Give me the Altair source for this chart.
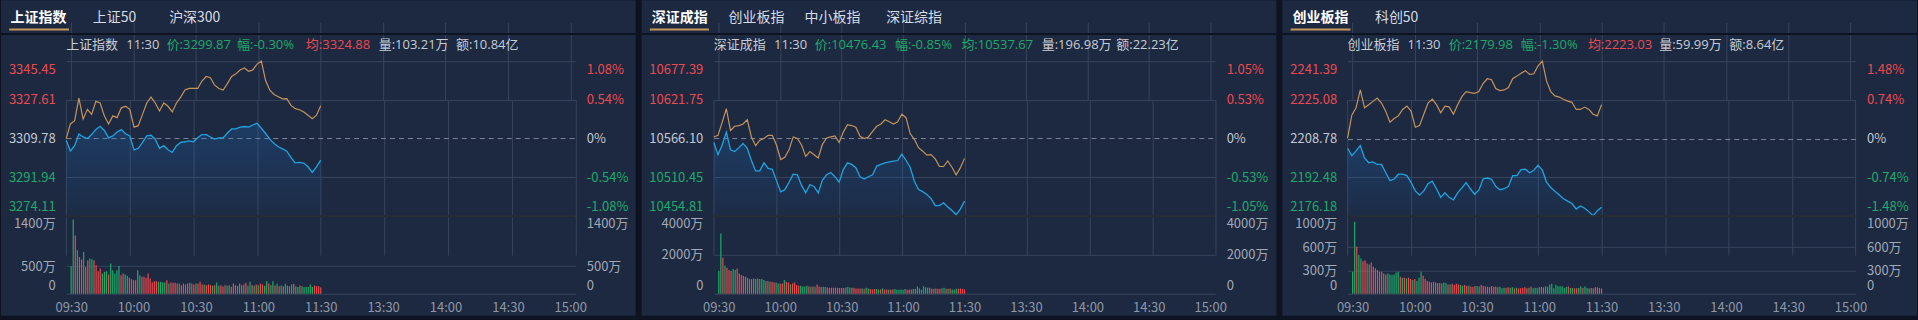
import json
import altair as alt
import pandas as pd

# ---------------------------------------------------------------- data
TIME_TICKS = [0, 30, 60, 90, 120, 150, 180, 210, 240]
TIME_LABELS = ["09:30", "10:00", "10:30", "11:00", "11:30", "13:30", "14:00", "14:30", "15:00"]
LINE_MINUTES = list(range(0, 121, 2))

# --- 上证指数
sh_tabs = ["上证指数", "上证50", "沪深300"]
sh_info = ["上证指数", "11:30", "价:3299.87", "幅:-0.30%", "均:3324.88", "量:103.21万", "额:10.84亿"]
sh_info_tone = ["n", "n", "d", "d", "u", "n", "n"]
sh_price_ticks = [3274.11, 3291.94, 3309.78, 3327.61, 3345.45]
sh_price_labels = ["3274.11", "3291.94", "3309.78", "3327.61", "3345.45"]
sh_pct_labels = ["-1.08%", "-0.54%", "0%", "0.54%", "1.08%"]
sh_vol_ticks = [0, 500, 1400]
sh_vol_labels = ["0", "500万", "1400万"]
sh_price = [3309.0, 3304.1, 3306.5, 3311.9, 3310.5, 3309.8, 3311.6, 3313.9, 3315.4, 3313.5,
            3310.1, 3311.0, 3312.8, 3313.9, 3312.0, 3311.0, 3304.6, 3305.3, 3308.0, 3311.0,
            3311.3, 3309.5, 3305.3, 3306.5, 3304.6, 3303.4, 3306.5, 3308.0, 3308.3, 3308.7,
            3308.3, 3310.1, 3311.6, 3311.6, 3310.5, 3309.5, 3310.1, 3310.1, 3312.3, 3314.2,
            3314.2, 3315.0, 3315.3, 3315.0, 3316.0, 3316.8, 3314.5, 3312.1, 3309.5, 3307.5,
            3306.0, 3305.0, 3304.0, 3301.0, 3298.6, 3298.8, 3298.5, 3296.8, 3294.2, 3296.8,
            3299.87]
sh_avg = [3309.78, 3316.5, 3318.0, 3328.4, 3318.7, 3323.2, 3320.9, 3326.9, 3326.1, 3320.2,
          3316.5, 3320.2, 3319.4, 3323.9, 3324.6, 3323.2, 3315.0, 3315.7, 3320.9, 3326.1,
          3328.8, 3326.1, 3322.4, 3326.1, 3324.6, 3322.0, 3326.1, 3328.8, 3332.1, 3332.8,
          3332.8, 3332.8, 3336.2, 3338.3, 3337.7, 3334.3, 3332.8, 3332.1, 3335.0, 3338.3,
          3339.5, 3341.3, 3342.2, 3340.7, 3341.3, 3344.0, 3345.4, 3336.4, 3332.0, 3330.0,
          3329.0, 3328.0, 3328.1, 3325.0, 3323.5, 3323.0, 3322.0, 3320.5, 3318.9, 3320.5,
          3324.88]
sh_vol = [496, 1340, 1052, 783, 664, 616, 753, 484, 604, 634,
          622, 604, 514, 407, 454, 365, 395, 407, 347, 544,
          425, 365, 425, 502, 335, 365, 347, 323, 287, 263,
          245, 245, 425, 335, 305, 305, 287, 365, 275, 203,
          227, 227, 215, 215, 203, 203, 245, 185, 203, 197,
          197, 185, 185, 155, 185,
          167, 185, 197, 185, 167, 185, 179, 215, 167, 167,
          155, 167, 155, 143, 155, 203, 143, 155, 131, 155,
          143, 155, 126, 185, 155, 143, 185, 155, 167, 197,
          143, 215, 155, 143, 167, 155, 185, 167, 143, 227,
          185, 155,
          223, 147, 182, 135, 147, 135, 182, 147, 135, 165,
          182, 135, 123, 147, 135, 123, 123, 123, 165, 123,
          147, 135, 135, 112]
sh_vol_dir = ("ggrgrrgrrg" "grrrrgggrg" "ggggrrggrr" "rrggrrrrrr" "rrggggrgrr" "rrgrr"
              "rrgrrgrrrg" "rrrgrggrrr" "ggrrrgrgrr" "ggrgrgrrgg" "rg"
              "grgrgrggrg" "rggrgggggg" "rrrr")

# --- 深证成指
sz_tabs = ["深证成指", "创业板指", "中小板指", "深证综指"]
sz_info = ["深证成指", "11:30", "价:10476.43", "幅:-0.85%", "均:10537.67", "量:196.98万", "额:22.23亿"]
sz_info_tone = ["n", "n", "d", "d", "d", "n", "n"]
sz_price_ticks = [10454.81, 10510.45, 10566.10, 10621.75, 10677.39]
sz_price_labels = ["10454.81", "10510.45", "10566.10", "10621.75", "10677.39"]
sz_pct_labels = ["-1.05%", "-0.53%", "0%", "0.53%", "1.05%"]
sz_vol_ticks = [0, 2000, 4000]
sz_vol_labels = ["0", "2000万", "4000万"]
sz_price = [10560.5, 10542.9, 10556.8, 10575.4, 10549.9, 10547.5, 10553.1, 10559.1, 10552.2, 10534.6,
            10519.7, 10519.7, 10531.3, 10523.4, 10522.0, 10505.8, 10489.6, 10492.8, 10503.5, 10515.1,
            10514.2, 10498.9, 10488.2, 10500.2, 10497.5, 10488.2, 10506.7, 10514.2, 10517.4, 10511.4,
            10503.5, 10522.0, 10531.3, 10529.0, 10524.4, 10511.4, 10508.1, 10511.4, 10514.2, 10526.7,
            10529.0, 10531.3, 10532.7, 10533.6, 10534.6, 10543.8, 10535.0, 10525.0, 10505.0, 10493.0,
            10490.0, 10486.0, 10480.0, 10470.0, 10470.0, 10474.0, 10468.0, 10463.0, 10457.0, 10465.0,
            10476.43]
sz_avg = [10568.4, 10570.7, 10589.3, 10608.8, 10577.7, 10583.7, 10584.7, 10587.0, 10593.0, 10568.4,
          10555.9, 10563.8, 10566.1, 10570.7, 10570.7, 10556.8, 10536.0, 10539.2, 10549.9, 10568.4,
          10566.1, 10556.8, 10540.6, 10547.5, 10542.9, 10538.3, 10557.8, 10567.0, 10568.4, 10569.8,
          10560.5, 10575.4, 10586.0, 10584.7, 10582.3, 10569.3, 10566.1, 10568.4, 10576.3, 10583.7,
          10587.0, 10593.0, 10590.2, 10587.0, 10590.2, 10600.9, 10596.0, 10573.2, 10565.0, 10553.0,
          10548.0, 10542.3, 10543.0, 10537.0, 10526.0, 10526.0, 10534.0, 10525.0, 10514.0, 10524.0,
          10537.67]
sz_vol = [1168, 3108, 1854, 1442, 1339, 1219, 1168, 1270, 1219, 1305,
          1047, 962, 927, 876, 824, 755, 755, 790, 755, 790,
          755, 755, 704, 652, 652, 618, 618, 584, 584, 532,
          532, 532, 704, 618, 584, 481, 532, 584, 446, 412,
          412, 378, 378, 412, 378, 361, 378, 361, 481, 378,
          343, 361, 343, 326, 309, 309, 309,
          309, 309, 292, 292, 292, 326, 343, 326, 309, 309,
          275, 275, 275, 275, 258, 309, 275, 240, 223, 240,
          240, 223, 223, 275, 223, 223, 206, 206, 223, 240,
          206, 206, 223, 206, 240, 206, 223, 223, 240, 240,
          378, 275, 206,
          390, 339, 305, 305, 254, 254, 271, 254, 254, 288,
          305, 254, 254, 271, 220, 220, 254, 254, 271, 254,
          220]
sz_vol_dir = ("ggrgrrrggr" "rrrrgrrggr" "gggrgrrrgg" "rrgrrgrrrr" "ggggrgrgrr" "rggrrrr"
              "rrrrrgggrr" "rrrgrggrrr" "ggrgrrgrrg" "gggggrrrgr" "ggg"
              "gggrrgrrrg" "grgrgggrrr" "r")

# --- 创业板指
cy_tabs = ["创业板指", "科创50"]
cy_info = ["创业板指", "11:30", "价:2179.98", "幅:-1.30%", "均:2223.03", "量:59.99万", "额:8.64亿"]
cy_info_tone = ["n", "n", "d", "d", "u", "n", "n"]
cy_price_ticks = [2176.18, 2192.48, 2208.78, 2225.08, 2241.39]
cy_price_labels = ["2176.18", "2192.48", "2208.78", "2225.08", "2241.39"]
cy_pct_labels = ["-1.48%", "-0.74%", "0%", "0.74%", "1.48%"]
cy_vol_ticks = [0, 300, 600, 1000]
cy_vol_labels = ["0", "300万", "600万", "1000万"]
cy_price = [2204.7, 2201.6, 2203.6, 2205.8, 2200.6, 2198.6, 2199.0, 2197.9, 2197.9, 2194.5,
            2191.1, 2191.8, 2193.8, 2193.8, 2193.2, 2190.4, 2186.8, 2185.0, 2186.8, 2189.8,
            2190.9, 2187.7, 2184.1, 2186.0, 2184.1, 2183.0, 2186.0, 2188.1, 2190.3, 2187.7,
            2185.4, 2187.1, 2191.8, 2192.2, 2191.7, 2188.7, 2187.3, 2187.7, 2188.7, 2193.2,
            2193.2, 2195.7, 2195.9, 2194.4, 2195.5, 2197.6, 2195.5, 2190.5, 2188.2, 2186.6,
            2185.1, 2183.5, 2182.5, 2181.5, 2179.2, 2180.5, 2179.5, 2178.1, 2176.3, 2178.5,
            2179.98]
cy_avg = [2209.0, 2218.6, 2221.7, 2229.2, 2221.7, 2223.0, 2224.4, 2225.8, 2223.7, 2220.3,
          2215.6, 2217.2, 2218.3, 2221.0, 2222.4, 2220.3, 2213.5, 2214.2, 2219.0, 2223.7,
          2225.3, 2223.0, 2219.6, 2222.4, 2222.1, 2219.0, 2223.0, 2226.4, 2228.5, 2228.1,
          2227.8, 2228.5, 2231.9, 2233.9, 2233.5, 2229.8, 2228.9, 2229.2, 2230.2, 2233.9,
          2235.0, 2236.2, 2237.3, 2235.7, 2236.0, 2239.3, 2241.3, 2233.0, 2228.5, 2226.7,
          2226.2, 2225.3, 2224.5, 2224.0, 2221.0, 2221.0, 2222.0, 2221.0, 2219.0, 2218.3,
          2223.03]
cy_vol = [283, 927, 605, 498, 455, 420, 433, 390, 378, 403,
          348, 326, 305, 283, 283, 262, 249, 262, 249, 240,
          249, 275, 283, 219, 206, 206, 197, 206, 189, 176,
          189, 163, 206, 283, 232, 189, 163, 154, 146, 154,
          146, 137, 137, 133, 146, 137, 120, 120, 129, 112,
          129, 120, 112, 103, 112, 103, 103, 94,
          90, 99, 99, 94, 112, 103, 94, 90, 86, 99,
          90, 94, 82, 90, 69, 77, 77, 82, 77, 82,
          69, 77, 69, 69, 77, 82, 69, 77, 94, 69,
          77, 77, 82, 86, 82, 94, 90, 120, 129, 69,
          115, 95, 95, 95, 74, 86, 95, 74, 74, 70,
          70, 74, 95, 74, 95, 74, 66, 74, 70, 82,
          82, 74, 66]
cy_vol_dir = ("ggrggrrrgr" "rrrrrgrggg" "gggrgrgrrg" "rgggrrrrrr" "grrgggrgrr" "rrggrrgr"
              "rrggrrrrrr" "rrggggrrgg" "rgrrrrrgrg" "gggrrggggg"
              "ggggggrggr" "rggrgggrgr" "rrr")

# ---------------------------------------------------------------- style / layout
W, H = 636, 316
PRICE_TOP, PRICE_BOT = 60.7, 216.3
VOL_TOP, VOL_BOT = 216.3, 294.0

BG = "#1c2941"
SEP = "#0d1320"
GRID = "#38445c"
DASH = "#7e8697"
DIVIDER = "#272b33"
RED = "#ec4a4f"
GREEN = "#1eaa6a"
LAB_GRAY = "#c3c8d1"
VOL_LAB = "#a2a8b4"
TIME_LAB = "#8f97a5"
BLUE = "#1ea4e2"
ORANGE = "#c6935a"
TAN = "#c8955a"
TAB_SEL = "#ffffff"
TAB_OFF = "#d8dce4"
INFO_GRAY = "#c8cdd6"
FONT = "Noto Sans CJK SC"
TEXT_FONT = "Open Sans, Noto Sans CJK SC"
TONE = {"n": INFO_GRAY, "u": RED, "d": GREEN}

LAYOUTS = [
    dict(x=(65.3, 575.5), tabs_x=[9.5, 92.0, 168.5], ul=(8.2, 68.2),
         info_x=[65.3, 125.5, 166.0, 236.5, 305.5, 378.5, 456.0]),
    dict(x=(72.3, 574.7), tabs_x=[10.2, 87.0, 163.3, 245.0], ul=(8.2, 67.4),
         info_x=[72.3, 132.7, 173.5, 253.9, 320.4, 400.9, 475.6]),
    dict(x=(65.4, 574.4), tabs_x=[10.3, 92.8], ul=(8.3, 68.3),
         info_x=[65.4, 125.4, 166.7, 238.9, 306.2, 377.7, 447.9]),
]


def lookup_expr(labels, ticks):
    return (f"{json.dumps(labels, ensure_ascii=False)}"
            f"[indexof({json.dumps(ticks)}, datum.value)]")


def sign_color(base):
    return {"condition": [{"test": f"datum.value > {base}", "value": RED},
                          {"test": f"datum.value < {base}", "value": GREEN}],
            "value": LAB_GRAY}


def text_layer(txt, x, y, size, color, weight="normal", font=TEXT_FONT):
    return alt.Chart(pd.DataFrame({"t": [txt]})).mark_text(
        align="left", baseline="middle", font=font, fontSize=size,
        color=color, fontWeight=weight
    ).encode(x=alt.value(x), y=alt.value(y), text="t:N")


def panel(tabs, info, tone, pticks, plabels, pctlabels, vticks, vlabels,
          price, avg, vol, vdir, lay):
    xl, xr = lay["x"]
    base = pticks[2]
    lo, hi = pticks[0], pticks[-1]
    xs = alt.Scale(domain=[0, 240], range=[xl, xr], nice=False, zero=False)
    ps = alt.Scale(domain=[lo, hi], range=[PRICE_BOT, PRICE_TOP], nice=False, zero=False)
    vs = alt.Scale(domain=[vticks[0], vticks[-1]], range=[VOL_BOT, VOL_TOP], nice=False, zero=False)

    line_df = pd.DataFrame({"m": LINE_MINUTES, "price": price, "avg": avg})
    vol_df = pd.DataFrame({"m": list(range(len(vol))), "v": vol, "d": list(vdir)})

    common = dict(ticks=False, tickSize=0, domain=False, title=None,
                  labelFont=FONT, labelFontSize=13, labelOverlap=False)

    x_none = alt.X("m:Q", scale=xs, axis=None)

    grad = alt.Gradient(
        gradient="linear",
        stops=[alt.GradientStop(color="rgba(34,120,210,0.24)", offset=0),
               alt.GradientStop(color="rgba(34,120,210,0.03)", offset=1)],
        x1=1, x2=1, y1=0, y2=1)

    area = alt.Chart(line_df).mark_area(color=grad).encode(
        x=alt.X("m:Q", scale=xs, axis=alt.Axis(
            values=TIME_TICKS, grid=True, labels=False, gridColor=GRID,
            ticks=False, tickSize=0, domain=False, title=None, orient="bottom")),
        y=alt.Y("price:Q", scale=ps, axis=alt.Axis(
            orient="left", offset=-xl, values=pticks,
            labelExpr=lookup_expr(plabels, pticks),
            grid=True,
            gridColor={"condition": {"test": f"datum.value == {base}", "value": DASH},
                       "value": GRID},
            gridDash={"condition": {"test": f"datum.value == {base}", "value": [5, 4]},
                      "value": []},
            labelPadding=11, labelFlush=True, labelFlushOffset=-3,
            labelColor=sign_color(base), **common)),
        y2=alt.datum(lo),
    )

    blue = alt.Chart(line_df).mark_line(color=BLUE, strokeWidth=1.3).encode(
        x=x_none, y=alt.Y("price:Q", scale=ps, axis=None))

    orange = alt.Chart(line_df).mark_line(color=ORANGE, strokeWidth=1.2).encode(
        x=x_none,
        y=alt.Y("avg:Q", scale=ps, axis=alt.Axis(
            orient="right", offset=xr - W, values=pticks,
            labelExpr=lookup_expr(pctlabels, pticks), grid=False,
            labelPadding=11, labelFlush=True, labelFlushOffset=-3,
            labelColor=sign_color(base), **common)))

    divider = alt.Chart(pd.DataFrame({"y": [lo]})).mark_rule(
        color=DIVIDER, strokeWidth=2).encode(
        y=alt.Y("y:Q", scale=ps, axis=None), x=alt.value(xl), x2=alt.value(xr))

    bars = alt.Chart(vol_df).mark_bar(width=1.2).encode(
        x=alt.X("m:Q", scale=xs, axis=alt.Axis(
            orient="bottom", offset=VOL_BOT - H, values=TIME_TICKS,
            labelExpr=lookup_expr(TIME_LABELS, TIME_TICKS),
            grid=True, gridColor=GRID, labelPadding=8, labelColor=TIME_LAB,
            labelFlush=False, **common)),
        y=alt.Y("v:Q", scale=vs, axis=alt.Axis(
            orient="left", offset=-xl, values=vticks,
            labelExpr=lookup_expr(vlabels, vticks), grid=True, gridColor=GRID,
            labelPadding=11, labelFlush=True, labelFlushOffset=-1,
            labelColor=VOL_LAB, **common)),
        y2=alt.datum(0),
        color=alt.Color("d:N", scale=alt.Scale(domain=["r", "g"], range=[RED, GREEN]),
                        legend=None),
    )

    vol_right = alt.Chart(vol_df).mark_bar(width=1, opacity=0).encode(
        x=x_none,
        y=alt.Y("v:Q", scale=vs, axis=alt.Axis(
            orient="right", offset=xr - W, values=vticks,
            labelExpr=lookup_expr(vlabels, vticks), grid=False,
            labelPadding=11, labelFlush=True, labelFlushOffset=-1,
            labelColor=VOL_LAB, **common)),
        y2=alt.datum(0),
    )

    hsep = alt.Chart(pd.DataFrame({"k": [0]})).mark_rule(color=SEP, strokeWidth=2).encode(
        x=alt.value(0), x2=alt.value(W), y=alt.value(33.7))
    underline = alt.Chart(pd.DataFrame({"k": [0]})).mark_rule(color=TAN, strokeWidth=2).encode(
        x=alt.value(lay["ul"][0]), x2=alt.value(lay["ul"][1]), y=alt.value(29.3))

    texts = []
    for i, t in enumerate(tabs):
        texts.append(text_layer(t, lay["tabs_x"][i], 17.5, 14,
                                TAB_SEL if i == 0 else TAB_OFF,
                                "bold" if i == 0 else "normal", font=FONT))
    for i, t in enumerate(info):
        texts.append(text_layer(t, lay["info_x"][i], 45.0, 13, TONE[tone[i]]))

    return alt.layer(area, blue, orange, divider, bars, vol_right, hsep, underline, *texts
                     ).resolve_scale(x="independent", y="independent", color="independent"
                     ).properties(width=W, height=H)


p1 = panel(sh_tabs, sh_info, sh_info_tone, sh_price_ticks, sh_price_labels, sh_pct_labels,
           sh_vol_ticks, sh_vol_labels, sh_price, sh_avg, sh_vol, sh_vol_dir, LAYOUTS[0])
p2 = panel(sz_tabs, sz_info, sz_info_tone, sz_price_ticks, sz_price_labels, sz_pct_labels,
           sz_vol_ticks, sz_vol_labels, sz_price, sz_avg, sz_vol, sz_vol_dir, LAYOUTS[1])
p3 = panel(cy_tabs, cy_info, cy_info_tone, cy_price_ticks, cy_price_labels, cy_pct_labels,
           cy_vol_ticks, cy_vol_labels, cy_price, cy_avg, cy_vol, cy_vol_dir, LAYOUTS[2])

chart = alt.hconcat(p1, p2, p3, spacing=6, bounds="flush").properties(
    background=SEP,
    padding={"left": 0, "top": 0, "right": 0, "bottom": 4},
).configure_view(fill=BG, strokeWidth=0).configure_axis(minExtent=0)

chart.save("out.html", embed_options={"renderer": "svg", "actions": False})
